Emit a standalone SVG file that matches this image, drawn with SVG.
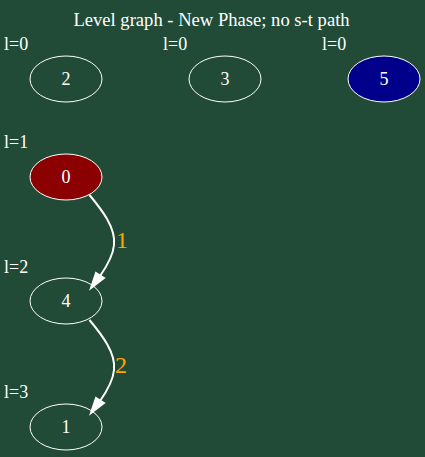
<svg xmlns="http://www.w3.org/2000/svg" width="425" height="457" viewBox="0 0 425 457">
<style>
text{font-family:"Liberation Serif","Times New Roman",serif;fill:#ffffff}
.n{stroke:#ffffff;stroke-width:1;fill:none}
.t{font-size:18px;text-anchor:middle}
.ti{font-size:18.6px;text-anchor:middle}
.lv{font-size:18px}
.el{font-size:24px;fill:#ffa500}
.e{stroke:#ffffff;stroke-width:2;fill:none}
.ah{fill:#ffffff;stroke:#ffffff;stroke-width:2}
</style>
<rect width="425" height="457" fill="#214b37"/>
<text class="ti" x="211.5" y="26">Level graph - New Phase; no s-t path</text>
<text class="lv" x="4" y="50">l=0</text>
<text class="lv" x="163" y="50">l=0</text>
<text class="lv" x="322" y="50">l=0</text>
<text class="lv" x="4" y="148">l=1</text>
<text class="lv" x="4" y="273">l=2</text>
<text class="lv" x="4" y="398">l=3</text>
<g id="edges">
<path class="e" d="M89.5,195 C102,210 116,228 114,245 C113,256 107,266 100,276"/>
<polygon class="ah" points="104,278 91,288 96,273"/>
<text class="el" x="116" y="248">1</text>
<path class="e" d="M89.5,320 C102,335 116,353 114,370 C113,381 107,391 100,401"/>
<polygon class="ah" points="104,403 91,413 96,398"/>
<text class="el" x="115" y="373">2</text>
</g>
<g id="node2"><ellipse class="n" cx="66" cy="79" rx="36" ry="23"/><text class="t" x="66" y="85">2</text></g>
<g id="node3"><ellipse class="n" cx="225" cy="79" rx="36" ry="23"/><text class="t" x="225" y="85">3</text></g>
<g id="node5"><ellipse class="n" cx="384" cy="79" rx="36" ry="23" style="fill:#00008b"/><text class="t" x="384" y="85">5</text></g>
<g id="node0"><ellipse class="n" cx="66" cy="177" rx="36" ry="23" style="fill:#8b0000"/><text class="t" x="66" y="183">0</text></g>
<g id="node4"><ellipse class="n" cx="66" cy="301" rx="36" ry="23"/><text class="t" x="66" y="307">4</text></g>
<g id="node1"><ellipse class="n" cx="66" cy="427" rx="36" ry="23"/><text class="t" x="66" y="433">1</text></g>
</svg>
